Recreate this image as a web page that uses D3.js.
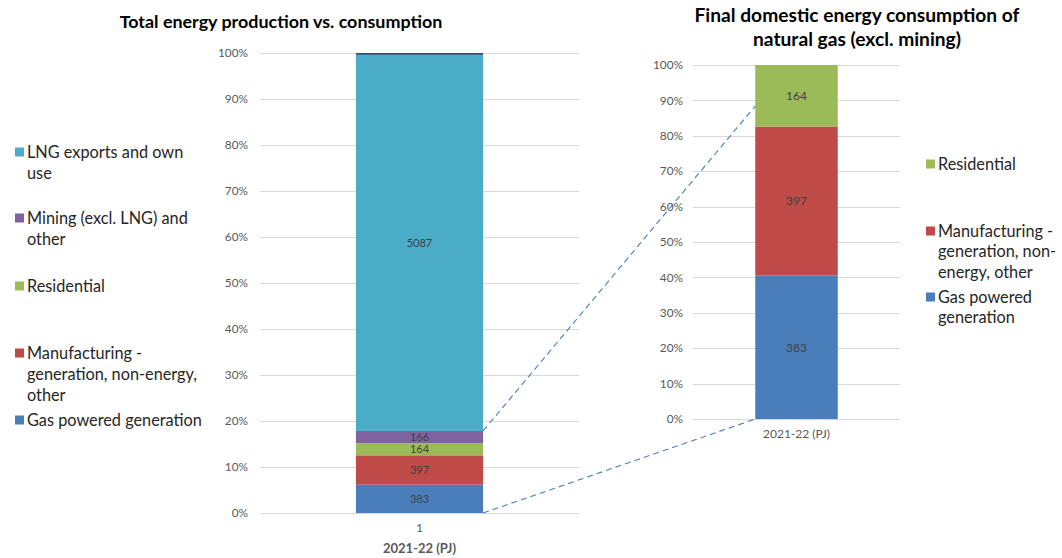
<!DOCTYPE html>
<html>
<head>
<meta charset="utf-8">
<script src="https://cdn.jsdelivr.net/npm/d3@7"></script>
<style>
  html, body { margin: 0; padding: 0; background: #fff; }
  svg { display: block; font-family: Lato, "Open Sans", sans-serif; }
</style>
</head>
<body>
<svg id="chart" width="1062" height="558"></svg>
<script>
// ---------- data ----------
const leftCategories = ["Gas powered generation", "Manufacturing - generation, non-energy, other", "Residential", "Mining (excl. LNG) and other", "LNG exports and own use", "Unallocated"];
const leftValues = [383, 397, 164, 166, 5087, 25];
const leftLabelShown = [true, true, true, true, true, false];
const rightCategories = ["Gas powered generation", "Manufacturing - generation, non-energy, other", "Residential"];
const rightValues = [383, 397, 164];
const leftXLabel = ["1"];
const rightXLabel = ["2021-22 (PJ)"];
const yTickValues = [0, 0.1, 0.2, 0.3, 0.4, 0.5, 0.6, 0.7, 0.8, 0.9, 1.0];
const leftTitle = "Total energy production vs. consumption";
const rightTitle = ["Final domestic energy consumption of", "natural gas (excl. mining)"];
const leftAxisTitle = "2021-22 (PJ)";
const leftLegend = [
  {key: "LNG exports and own use", lines: ["LNG exports and own", "use"]},
  {key: "Mining (excl. LNG) and other", lines: ["Mining (excl. LNG) and", "other"]},
  {key: "Residential", lines: ["Residential"]},
  {key: "Manufacturing - generation, non-energy, other", lines: ["Manufacturing -", "generation, non-energy,", "other"]},
  {key: "Gas powered generation", lines: ["Gas powered generation"]}
];
const rightLegend = [
  {key: "Residential", lines: ["Residential"]},
  {key: "Manufacturing - generation, non-energy, other", lines: ["Manufacturing -", "generation, non-", "energy, other"]},
  {key: "Gas powered generation", lines: ["Gas powered", "generation"]}
];
const connectorRightTarget = 0.884; // share on right axis where upper zoom line meets

// ---------- styles ----------
const colors = {
  "Gas powered generation": "#4a7ebb",
  "Manufacturing - generation, non-energy, other": "#be4b48",
  "Residential": "#9bbb59",
  "Mining (excl. LNG) and other": "#7f63a1",
  "LNG exports and own use": "#4aacc6",
  "Unallocated": "#2c4d75"
};
const gridColor = "#d9d9d9";
const tickColor = "#595959";
const labelColor = "#404040";

const svg = d3.select("#chart");

function stackShares(cats, vals) {
  const row = {};
  cats.forEach((c, i) => row[c] = vals[i]);
  return d3.stack().keys(cats).offset(d3.stackOffsetExpand)([row]);
}

function drawPanel(opts) {
  const g = svg.append("g");
  const x = d3.scaleBand().domain(opts.xLabels).range(opts.xRange).paddingInner(0.43).paddingOuter(0.43);
  const y = d3.scaleLinear().domain([0, 1]).range(opts.yRange);

  g.append("g").selectAll("line").data(yTickValues).join("line")
    .attr("x1", opts.xRange[0]).attr("x2", opts.xRange[1])
    .attr("y1", d => Math.round(y(d)) + 0.5).attr("y2", d => Math.round(y(d)) + 0.5)
    .attr("stroke", gridColor).attr("stroke-width", 1);

  const yAxis = d3.axisLeft(y).tickValues(yTickValues).tickFormat(d3.format(".0%")).tickSize(0).tickPadding(opts.tickPad);
  const ya = g.append("g").attr("transform", `translate(${opts.xRange[0]},0)`).call(yAxis);
  ya.select(".domain").remove();
  ya.selectAll("text").attr("fill", tickColor).style("font-size", "11.8px").style("font-family", "Lato, sans-serif");

  const series = stackShares(opts.cats, opts.vals);
  const segs = g.append("g").selectAll("g").data(series).join("g").attr("fill", d => colors[d.key]);
  segs.selectAll("rect").data(d => d.map(p => ({p, key: d.key}))).join("rect")
    .attr("x", x(opts.xLabels[0]))
    .attr("width", x.bandwidth())
    .attr("y", d => y(d.p[1]))
    .attr("height", d => y(d.p[0]) - y(d.p[1]));

  series.forEach((s, i) => {
    if (opts.showLabel && !opts.showLabel[i]) return;
    const p = s[0];
    g.append("text")
      .attr("x", x(opts.xLabels[0]) + x.bandwidth() / 2)
      .attr("y", (y(p[0]) + y(p[1])) / 2)
      .attr("dy", "0.36em")
      .attr("text-anchor", "middle")
      .attr("fill", labelColor)
      .style("font-size", opts.labelSize)
      .text(opts.vals[i]);
  });

  const xAxis = d3.axisBottom(x).tickSize(0).tickPadding(opts.xTickPad);
  const xa = g.append("g").attr("transform", `translate(0,${opts.yRange[0]})`).call(xAxis);
  xa.select(".domain").remove();
  xa.selectAll("text").attr("fill", tickColor).style("font-size", "12px").style("font-family", "Lato, sans-serif");

  return {x, y};
}

const L = drawPanel({
  cats: leftCategories, vals: leftValues, showLabel: leftLabelShown, labelSize: "11px",
  xLabels: leftXLabel, xRange: [260, 579], yRange: [513, 53], tickPad: 12, xTickPad: 10
});
const R = drawPanel({
  cats: rightCategories, vals: rightValues, labelSize: "12px",
  xLabels: rightXLabel, xRange: [693, 900], yRange: [419, 65], tickPad: 10, xTickPad: 10
});

svg.append("text").attr("x", (L.x.range()[0] + L.x.range()[1]) / 2).attr("y", 553)
  .attr("text-anchor", "middle").attr("fill", tickColor)
  .style("font-size", "13px").style("font-weight", "bold").text(leftAxisTitle);

svg.append("text").attr("x", 281).attr("y", 28).attr("text-anchor", "middle")
  .attr("fill", "#000").style("font-size", "17.9px").style("font-weight", "bold").text(leftTitle);
svg.append("text").attr("x", 857).attr("y", 22).attr("text-anchor", "middle")
  .attr("fill", "#000").style("font-size", "19.2px").style("font-weight", "bold")
  .selectAll("tspan").data(rightTitle).join("tspan")
  .attr("x", 857).attr("dy", (d, i) => i === 0 ? 0 : 24).text(d => d);

const leftShares = stackShares(leftCategories, leftValues);
const miningTop = leftShares[3][0][1];
const lBarRight = L.x(leftXLabel[0]) + L.x.bandwidth();
const rBarLeft = R.x(rightXLabel[0]);
const connectors = [
  [[lBarRight, L.y(miningTop)], [rBarLeft, R.y(connectorRightTarget)]],
  [[lBarRight, L.y(0)], [rBarLeft, R.y(0)]]
];
svg.append("g").selectAll("path").data(connectors).join("path")
  .attr("d", d => d3.line()(d))
  .attr("fill", "none").attr("stroke", "#4a7ebb").attr("stroke-width", 1.1)
  .attr("stroke-dasharray", "6,4");

function drawLegend(items, x0, ys, lineH) {
  const g = svg.append("g");
  items.forEach((it, i) => {
    const yc = ys[i];
    g.append("rect").attr("x", x0).attr("y", yc - 4.5).attr("width", 9).attr("height", 9).attr("fill", colors[it.key]);
    const t = g.append("text").attr("x", x0 + 12).attr("y", yc).attr("fill", "#262626").style("font-size", "16.3px");
    t.selectAll("tspan").data(it.lines).join("tspan")
      .attr("x", x0 + 12).attr("y", (d, j) => yc + j * lineH).attr("dy", "0.36em").text(d => d);
  });
}
drawLegend(leftLegend, 15, [152, 218, 286, 353, 420], 21);
drawLegend(rightLegend, 926, [164, 231, 297], 20.5);
</script>
</body>
</html>
